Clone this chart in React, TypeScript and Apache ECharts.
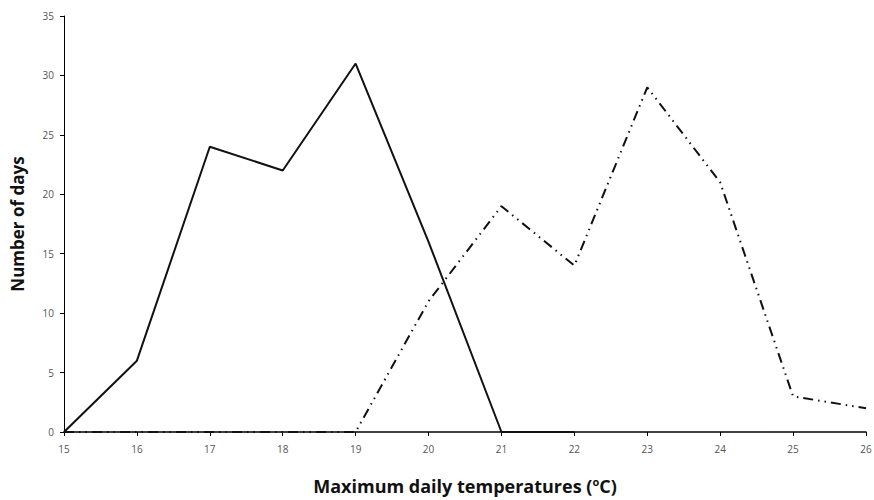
import React, { useEffect, useRef } from "react";
import * as echarts from "echarts";

const temperatures = [15, 16, 17, 18, 19, 20, 21, 22, 23, 24, 25, 26];
const seriesA = [0, 6, 24, 22, 31, 16, 0, 0, null, null, null, null];
const seriesB = [0, 0, 0, 0, 0, 11, 19, 14, 29, 21, 3, 2];

export default function App() {
  const ref = useRef<HTMLDivElement>(null);
  useEffect(() => {
    document.body.style.margin = "0";
    const chart = echarts.init(ref.current!, null, { renderer: "svg" });
    const toPairs = (vals: (number | null)[]) =>
      temperatures.map((t, i) => [t, vals[i]]).filter((p) => p[1] !== null);
    chart.setOption({
      animation: false,
      backgroundColor: "#fff",
      grid: { left: 64, right: 8, top: 16, bottom: 68, outerBoundsMode: "none", containLabel: false },
      xAxis: {
        type: "value",
        min: 15,
        max: 26,
        interval: 1,
        name: "{t|Maximum daily temperatures (}{s|o}{t|C)}",
        nameLocation: "middle",
        nameGap: 44,
        nameTextStyle: {
          rich: {
            t: { fontFamily: "Open Sans", fontWeight: "bold", fontSize: 18, color: "#111" },
            s: { fontFamily: "Open Sans", fontWeight: "bold", fontSize: 11, color: "#111", verticalAlign: "top", padding: [0, 0, 8, 0] },
          },
        },
        axisLine: { lineStyle: { color: "#000", width: 1.5 } },
        axisTick: { show: true, length: 4, lineStyle: { color: "#000" } },
        axisLabel: { fontFamily: "Open Sans", fontSize: 10, color: "#555", margin: 12 },
        splitLine: { show: false },
      },
      yAxis: {
        type: "value",
        min: 0,
        max: 35,
        interval: 5,
        name: "Number of days",
        nameLocation: "middle",
        nameGap: 38,
        nameTextStyle: { fontFamily: "Open Sans", fontWeight: "bold", fontSize: 17, color: "#111" },
        axisLine: { show: true, lineStyle: { color: "#000", width: 1 } },
        axisTick: { show: true, length: 4, lineStyle: { color: "#000" } },
        axisLabel: { fontFamily: "Open Sans", fontSize: 10, color: "#555", margin: 10 },
        splitLine: { show: false },
      },
      series: [
        {
          type: "line",
          data: toPairs(seriesA),
          showSymbol: false,
          symbol: "none",
          lineStyle: { color: "#111", width: 2 },
        },
        {
          type: "line",
          data: toPairs(seriesB),
          showSymbol: false,
          symbol: "none",
          lineStyle: { color: "#111", width: 2, type: [10, 5, 1.5, 5, 1.5, 5] },
        },
      ],
    });
    return () => chart.dispose();
  }, []);
  return <div ref={ref} style={{ position: "absolute", left: 0, top: 0, width: 874, height: 500 }} />;
}
